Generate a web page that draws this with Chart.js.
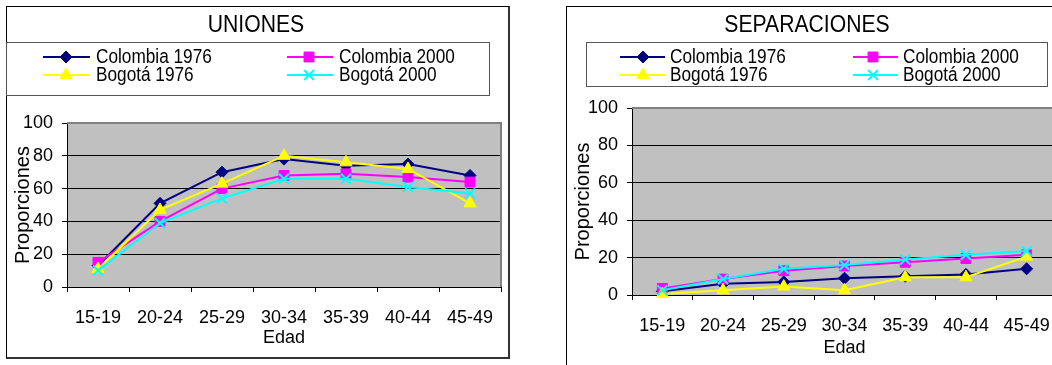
<!DOCTYPE html>
<html><head><meta charset="utf-8">
<script src="https://cdn.jsdelivr.net/npm/chart.js@4/dist/chart.umd.min.js"></script>
<style>
html,body{margin:0;padding:0;background:#fff;overflow:hidden;width:1052px;height:365px;}
.frame{position:absolute;box-sizing:border-box;border-left:1px solid #000;border-top:1px solid #000;border-right:2px solid #333;border-bottom:2px solid #333;}
canvas{position:absolute;}
</style></head><body>
<div class="frame" style="left:6px;top:6px;width:504px;height:353px"></div>
<div class="frame" style="left:566px;top:6px;width:520px;height:400px"></div>
<canvas id="c1" width="504" height="353" style="left:6px;top:6px"></canvas>
<canvas id="c2" width="500" height="363" style="left:566px;top:6px"></canvas>
<script>
// ---------- data ----------
const categories = ['15-19','20-24','25-29','30-34','35-39','40-44','45-49'];
const seriesNames = ['Colombia 1976','Colombia 2000','Bogotá 1976','Bogotá 2000'];
const yTicks = [0,20,40,60,80,100];
const unionesTitle = 'UNIONES';
const separacionesTitle = 'SEPARACIONES';
const xAxisTitle = 'Edad';
const yAxisTitle = 'Proporciones';

const unionesColombia1976 = [13, 51, 70, 78, 74, 75, 68];
const unionesColombia2000 = [15, 40, 60, 68, 69, 67, 64];
const unionesBogota1976   = [11, 47, 63, 80, 76, 72, 51];
const unionesBogota2000   = [10, 39, 54, 66, 66, 61, 57];

const separacionesColombia1976 = [2, 6, 7, 9, 10, 11, 14];
const separacionesColombia2000 = [3.5, 8.5, 13, 15.5, 17.5, 19.5, 21.5];
const separacionesBogota1976   = [0.5, 2.5, 4.5, 2.5, 9.5, 9.5, 20.5];
const separacionesBogota2000   = [2.5, 8.5, 14, 16, 19, 21.5, 23.5];

// ---------- styles ----------
const FONT = '"Liberation Sans", Arial, Helvetica, sans-serif';
Chart.defaults.font.family = FONT;
Chart.defaults.color = '#000';

// detect a narrow sans for the condensed axis title
const probe = document.createElement('canvas').getContext('2d');
probe.font = '20px "Liberation Sans Narrow", monospace';
const wN = probe.measureText('Edad Proporciones').width;
probe.font = '20px monospace';
const wM = probe.measureText('Edad Proporciones').width;
const HAS_NARROW = Math.abs(wN - wM) > 1;
const xTitleFont = HAS_NARROW
  ? {family: '"Liberation Sans Narrow", ' + FONT, size: 21}
  : {family: FONT, size: 18};

const seriesStyles = [
  {color:'#000080', point:'rectRot',  radius:6, pw:1, order:4},
  {color:'#FF00FF', point:'rect',     radius:7, pw:1, order:3},
  {color:'#FFFF00', point:'triangle', radius:7, pw:1, order:2},
  {color:'#00FFFF', point:'crossRot', radius:7, pw:2, order:1}
];

function makeDatasets(values) {
  return values.map((data, i) => {
    const s = seriesStyles[i];
    return {
      label: seriesNames[i], data,
      borderColor: s.color, backgroundColor: s.color, borderWidth: 2,
      pointStyle: s.point, pointRadius: s.radius, pointHoverRadius: s.radius,
      pointBackgroundColor: s.color, pointBorderColor: s.color, pointBorderWidth: s.pw,
      order: s.order, tension: 0, clip: false
    };
  });
}

function scaledText(ctx, text, x, y, size, sx, align) {
  ctx.save();
  ctx.font = size + 'px ' + FONT;
  ctx.textAlign = align;
  ctx.textBaseline = 'middle';
  ctx.translate(x, y);
  ctx.scale(sx, 1);
  ctx.fillText(text, 0, 0);
  ctx.restore();
}

function makeDecor(cfg) {
  return {
    id: 'decor',
    beforeDraw(chart) {
      const {ctx, chartArea: a} = chart;
      ctx.save();
      ctx.fillStyle = '#C0C0C0';
      ctx.fillRect(a.left, a.top, a.right - a.left, a.bottom - a.top);
      ctx.fillStyle = '#000';
      scaledText(ctx, cfg.title, cfg.titleX, cfg.titleY, 23.5, 0.9, 'center');
      ctx.strokeStyle = '#555';
      ctx.lineWidth = 1;
      const b = cfg.box;
      ctx.strokeRect(b[0] + 0.5, b[1] + 0.5, b[2] - b[0], b[3] - b[1]);
      chart.data.datasets.forEach((ds, i) => {
        const e = cfg.cols[i % 2];
        const y = cfg.rows[Math.floor(i / 2)];
        ctx.strokeStyle = ds.borderColor;
        ctx.lineWidth = ds.borderWidth;
        ctx.beginPath(); ctx.moveTo(e.x0, y); ctx.lineTo(e.x1, y); ctx.stroke();
        ctx.fillStyle = ds.pointBackgroundColor;
        ctx.strokeStyle = ds.pointBorderColor;
        ctx.lineWidth = ds.pointBorderWidth;
        Chart.helpers.drawPoint(ctx, {pointStyle: ds.pointStyle, radius: ds.pointRadius, rotation: 0, borderWidth: ds.pointBorderWidth}, e.m, y);
        ctx.fillStyle = '#000';
        scaledText(ctx, ds.label, e.t, y, 20.5, 0.84, 'left');
      });
      ctx.restore();
    },
    beforeDatasetsDraw(chart) {
      const {ctx, chartArea: a} = chart;
      ctx.save();
      ctx.strokeStyle = '#808080';
      ctx.lineWidth = 2;
      ctx.beginPath();
      ctx.moveTo(a.left, a.top); ctx.lineTo(a.right, a.top); ctx.lineTo(a.right, a.bottom);
      ctx.stroke();
      ctx.restore();
    }
  };
}

function makeScales(yWidth, xHeight) {
  return {
    x: {
      type: 'category', offset: true,
      grid: {offset: true, drawOnChartArea: false, drawTicks: true, tickLength: 5, color: '#000'},
      border: {display: true, color: '#000', width: 1},
      ticks: {color: '#000', font: {size: 18}, padding: 15, maxRotation: 0, autoSkip: false},
      title: {display: true, text: xAxisTitle, color: '#000', font: xTitleFont, padding: {top: 0, bottom: 10}},
      afterFit: a => { a.height = xHeight; }
    },
    y: {
      min: 0, max: 100,
      afterBuildTicks: a => { a.ticks = yTicks.map(v => ({value: v})); },
      grid: {color: '#000', lineWidth: 1, drawTicks: true, tickLength: 5},
      border: {display: true, color: '#000', width: 1},
      ticks: {color: '#000', font: {size: 18}, padding: 9},
      title: {display: true, text: yAxisTitle, color: '#000', font: {size: 20}, padding: {top: 5, bottom: 0}},
      afterFit: a => { a.width = yWidth; }
    }
  };
}

function makeChart(id, title, values, lay) {
  return new Chart(document.getElementById(id), {
    type: 'line',
    data: {labels: categories, datasets: makeDatasets(values)},
    options: {
      responsive: false, animation: false,
      layout: {padding: {top: lay.top, right: lay.right, left: 0, bottom: 0}},
      plugins: {legend: {display: false}, tooltip: {enabled: false}, title: {display: false}},
      scales: makeScales(lay.yWidth, lay.xHeight)
    },
    plugins: [makeDecor({
      title, titleX: lay.titleX, titleY: lay.titleY, box: lay.box, rows: lay.rows, cols: lay.cols
    })]
  });
}

makeChart('c1', unionesTitle,
  [unionesColombia1976, unionesColombia2000, unionesBogota1976, unionesBogota2000],
  {top: 117, right: 5, yWidth: 61, xHeight: 72, titleX: 250, titleY: 20,
   box: [0, 36, 483, 89], rows: [51, 69],
   cols: [{x0: 37, x1: 84, m: 60, t: 90}, {x0: 281, x1: 327, m: 303, t: 333}]});

makeChart('c2', separacionesTitle,
  [separacionesColombia1976, separacionesColombia2000, separacionesBogota1976, separacionesBogota2000],
  {top: 102, right: 7, yWidth: 66, xHeight: 74, titleX: 241, titleY: 20,
   box: [20, 36, 481, 80], rows: [51, 69],
   cols: [{x0: 54, x1: 99, m: 77, t: 104}, {x0: 287, x1: 332, m: 307, t: 337}]});
</script>
</body></html>
